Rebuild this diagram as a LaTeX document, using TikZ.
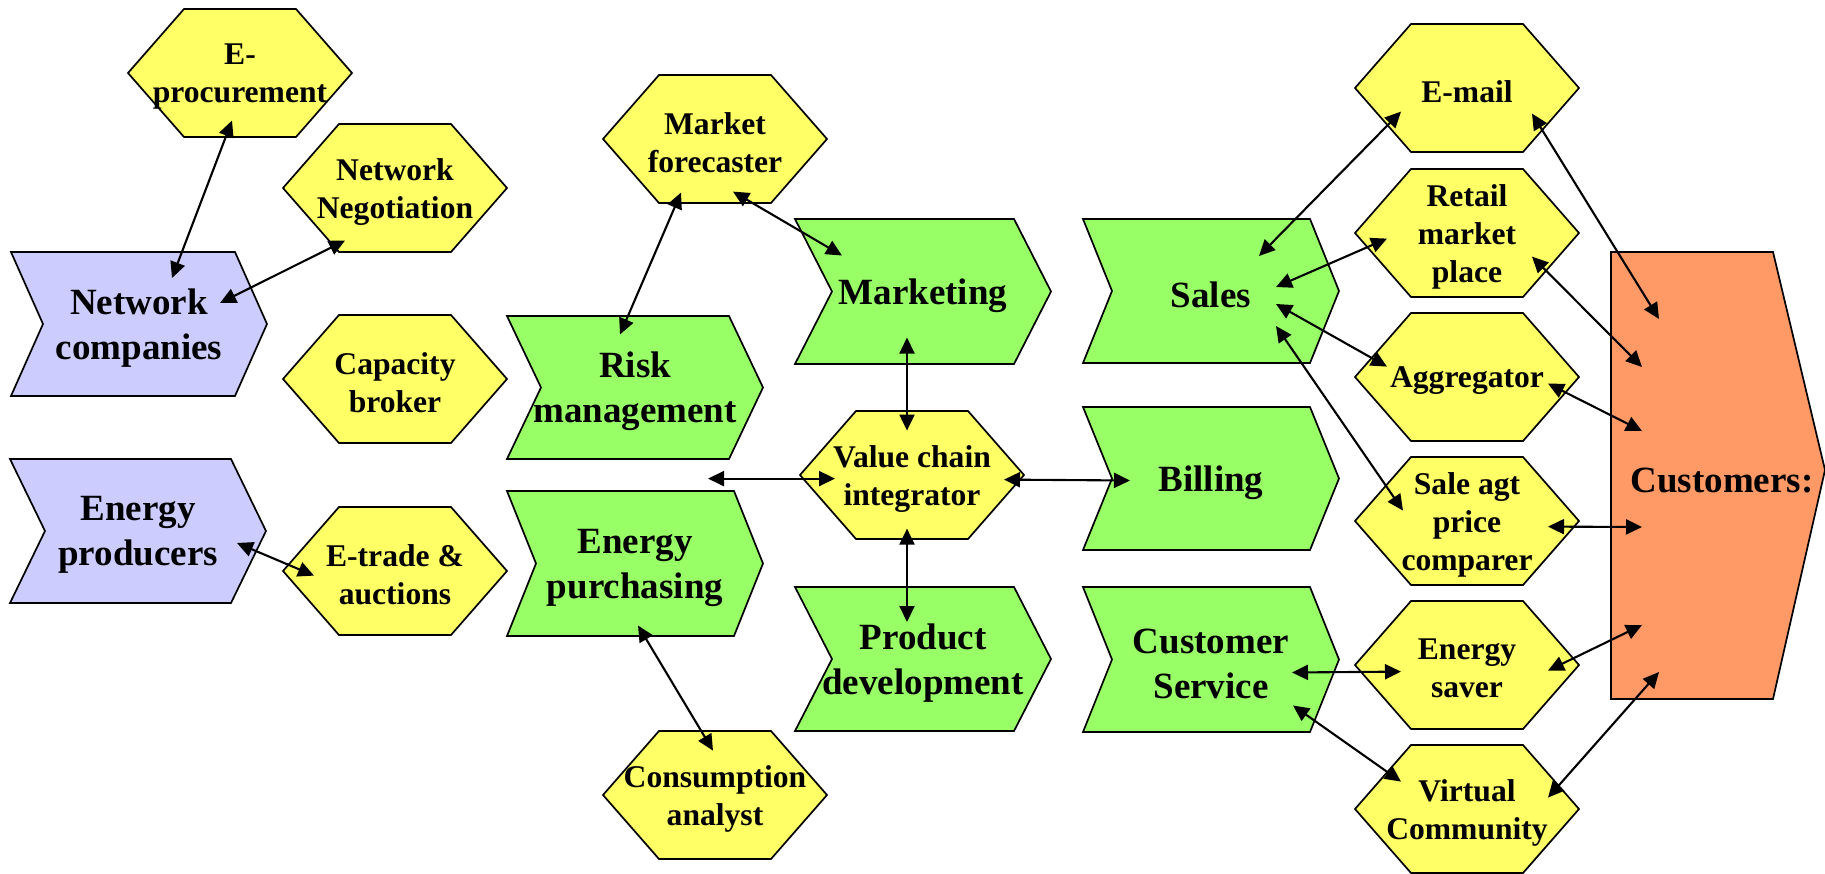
\documentclass[tikz,border=0pt]{standalone}
\usepackage{fontspec}
\setmainfont{Liberation Serif}
\usetikzlibrary{calc,arrows.meta}
\definecolor{hexyellow}{HTML}{FFFF66}
\definecolor{chevgreen}{HTML}{99FF66}
\definecolor{chevblue}{HTML}{CCCCFF}
\definecolor{custorange}{HTML}{FF9966}
\newcommand{\hexa}[4]{%
  \filldraw[shapeline, fill=hexyellow] (#2-112,#3) -- (#2-56,#3-64) -- (#2+56,#3-64) -- (#2+112,#3) -- (#2+56,#3+64) -- (#2-56,#3+64) -- cycle;
  \node[hextext] (#1) at (#2,#3) {#4};}
\newcommand{\chev}[8]{%
  \filldraw[shapeline, fill=#7] (#2,#3) -- (#4,#3) -- (#4+#5,{(#3+#6)/2}) -- (#4,#6) -- (#2,#6) -- (#2+#5,{(#3+#6)/2}) -- cycle;
  \node[bigtext] (#1) at ({(#2+#4+#5)/2},{(#3+#6)/2}) {#8};}
\begin{document}
\begin{tikzpicture}[x=0.5pt,y=-0.5pt,
  shapeline/.style={draw=black, line width=0.85pt, line join=miter},
  hextext/.style={align=center, inner sep=0pt, yshift=-1.8pt, font=\fontsize{15.8}{19}\selectfont\bfseries},
  bigtext/.style={align=center, inner sep=0pt, yshift=-2pt, font=\fontsize{18.5}{22.5}\selectfont\bfseries},
  conn/.style={line width=1.05pt, {Triangle[length=8pt,width=7.5pt]}-{Triangle[length=8pt,width=7.5pt]}}]
\useasboundingbox (0,0) rectangle (1825,873);
% chevrons
\chev{netcomp}{11}{252}{235}{32}{396}{chevblue}{Network\\companies}
\chev{enprod}{10}{459}{231}{35}{603}{chevblue}{Energy\\producers}
\chev{risk}{507}{316}{729}{34}{459}{chevgreen}{Risk\\management}
\chev{epurch}{507}{491}{734}{29}{636}{chevgreen}{Energy\\purchasing}
\chev{marketing}{795}{219}{1014}{37}{364}{chevgreen}{Marketing}
\chev{proddev}{795}{587}{1014}{37}{731}{chevgreen}{Product\\development}
\chev{sales}{1083}{219}{1310}{29}{363}{chevgreen}{Sales}
\chev{billing}{1083}{407}{1310}{29}{550}{chevgreen}{Billing}
\chev{custserv}{1083}{587}{1310}{29}{732}{chevgreen}{Customer\\Service}
% customers
\filldraw[shapeline, fill=custorange] (1611,252) -- (1773,252) -- (1825,470) -- (1773,699) -- (1611,699) -- cycle;
\node[bigtext] (customers) at (1722,477) {Customers:};
% hexagons
\hexa{eproc}{240}{73}{E-\\procurement}
\hexa{netneg}{395}{188}{Network\\Negotiation}
\hexa{capacity}{395}{379}{Capacity\\broker}
\hexa{etrade}{395}{571}{E-trade \&\\auctions}
\hexa{mf}{715}{139}{Market\\forecaster}
\hexa{consump}{715}{795}{Consumption\\analyst}
\hexa{vci}{912}{475}{Value chain\\integrator}
\hexa{email}{1467}{88}{E-mail}
\hexa{retail}{1467}{233}{Retail\\market\\place}
\hexa{aggr}{1467}{377}{Aggregator}
\hexa{saleagt}{1467}{521}{Sale agt\\price\\comparer}
\hexa{esaver}{1467}{665}{Energy\\saver}
\hexa{virtual}{1467}{809}{Virtual\\Community}
\coordinate (vcileft) at ($(vci)+(-204,0)$);
% connectors
\draw[conn] ($(eproc)+(-8,44)$) -- ($(netcomp)+(33,-50)$);
\draw[conn] ($(netneg)+(-50,49)$) -- ($(netcomp)+(81,-25)$);
\draw[conn] ($(enprod)+(99,8)$) -- ($(etrade)+(-81,1)$);
\draw[conn] ($(mf)+(-34,50)$) -- ($(risk)+(-15,-57)$);
\draw[conn] ($(mf)+(18,49)$) -- ($(marketing)+(-81,-40)$);
\draw[conn] ($(marketing)+(-16,42)$) -- ($(vci)+(-5,-48)$);
\draw[conn] ($(vci)+(-77,0)$) -- (vcileft);
\draw[conn] ($(vci)+(92,1)$) -- ($(billing)+(-81,-2)$);
\draw[conn] ($(vci)+(-5,50)$) -- ($(proddev)+(-16,-41)$);
\draw[conn] ($(epurch)+(3,58)$) -- ($(consump)+(-2,-48)$);
\draw[conn] ($(sales)+(48,-39)$) -- ($(email)+(-66,20)$);
\draw[conn] ($(sales)+(65,-8)$) -- ($(retail)+(-80,2)$);
\draw[conn] ($(sales)+(65,9)$) -- ($(aggr)+(-80,-14)$);
\draw[conn] ($(sales)+(65,31)$) -- ($(saleagt)+(-64,-14)$);
\draw[conn] ($(email)+(65,22)$) -- ($(customers)+(-63,-162)$);
\draw[conn] ($(retail)+(65,20)$) -- ($(customers)+(-80,-114)$);
\draw[conn] ($(aggr)+(81,3)$) -- ($(customers)+(-80,-50)$);
\draw[conn] ($(saleagt)+(81,2)$) -- ($(customers)+(-80,46)$);
\draw[conn] ($(esaver)+(81,2)$) -- ($(customers)+(-80,144)$);
\draw[conn] ($(virtual)+(81,-15)$) -- ($(customers)+(-63,191)$);
\draw[conn] ($(custserv)+(81,9)$) -- ($(esaver)+(-66,3)$);
\draw[conn] ($(custserv)+(82,42)$) -- ($(virtual)+(-66,-31)$);
\end{tikzpicture}
\end{document}
